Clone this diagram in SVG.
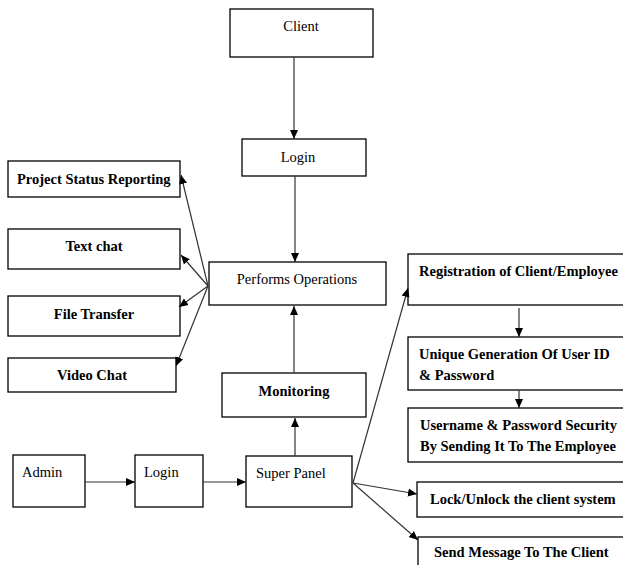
<svg xmlns="http://www.w3.org/2000/svg" width="623" height="565" viewBox="0 0 623 565">
<defs>
<marker id="ah" markerWidth="10" markerHeight="10" refX="9" refY="5" orient="auto" markerUnits="userSpaceOnUse">
<path d="M0,1 L9,5 L0,9 Z" fill="#000"/>
</marker>
<style>
.box{fill:#fff;stroke:#000;stroke-width:1.3}
.t{font-family:"Liberation Serif","Times New Roman",serif;font-size:14.5px;fill:#000}
.b{font-weight:bold}
.c{text-anchor:middle}
.ln{stroke:#333;stroke-width:1.2;fill:none;marker-end:url(#ah)}
</style>
</defs>
<rect width="623" height="565" fill="#fff"/>
<g id="client"><rect class="box" x="230" y="9" width="143" height="48"/><text class="t c" x="301" y="31">Client</text></g>
<g id="login-top"><rect class="box" x="242" y="139" width="124" height="37"/><text class="t c" x="298" y="162">Login</text></g>
<g id="project-status"><rect class="box" x="8" y="161" width="172" height="36"/><text class="t b" x="17" y="184">Project Status Reporting</text></g>
<g id="text-chat"><rect class="box" x="8" y="229" width="172" height="40"/><text class="t b c" x="94" y="251">Text chat</text></g>
<g id="file-transfer"><rect class="box" x="8" y="296" width="172" height="40"/><text class="t b c" x="94" y="319">File Transfer</text></g>
<g id="video-chat"><rect class="box" x="8" y="358" width="168" height="34"/><text class="t b c" x="92" y="380">Video Chat</text></g>
<g id="performs"><rect class="box" x="209" y="262" width="177" height="43"/><text class="t c" x="297" y="284">Performs Operations</text></g>
<g id="monitoring"><rect class="box" x="222" y="373" width="144" height="44"/><text class="t b c" x="294" y="396">Monitoring</text></g>
<g id="admin"><rect class="box" x="13" y="455" width="72" height="52"/><text class="t" x="22" y="477">Admin</text></g>
<g id="login-bottom"><rect class="box" x="135" y="455" width="68" height="52"/><text class="t" x="144" y="477">Login</text></g>
<g id="super-panel"><rect class="box" x="246" y="456" width="106" height="51"/><text class="t" x="256" y="478">Super Panel</text></g>
<g id="registration"><rect class="box" x="408" y="254" width="225" height="51"/><text class="t b" x="419" y="276">Registration of Client/Employee</text></g>
<g id="unique"><rect class="box" x="408" y="337" width="225" height="53"/><text class="t b" x="419" y="359">Unique Generation Of User ID</text><text class="t b" x="419" y="380">&amp; Password</text></g>
<g id="username"><rect class="box" x="408" y="408" width="225" height="54"/><text class="t b" x="420" y="430">Username &amp; Password Security</text><text class="t b" x="420" y="451">By Sending It To The Employee</text></g>
<g id="lock"><rect class="box" x="417" y="482" width="216" height="35"/><text class="t b" x="430" y="504">Lock/Unlock the client system</text></g>
<g id="send-message"><rect class="box" x="418" y="537" width="215" height="40"/><text class="t b" x="434" y="557">Send Message To The Client</text></g>
<g id="connectors">
<line class="ln" x1="294" y1="57" x2="294" y2="139"/>
<line class="ln" x1="295" y1="176" x2="295" y2="262"/>
<line class="ln" x1="208" y1="286" x2="181" y2="175"/>
<line class="ln" x1="208" y1="286" x2="181" y2="255"/>
<line class="ln" x1="208" y1="286" x2="179" y2="307"/>
<line class="ln" x1="208" y1="286" x2="176" y2="366"/>
<line class="ln" x1="294" y1="373" x2="294" y2="306"/>
<line class="ln" x1="85" y1="482" x2="135" y2="482"/>
<line class="ln" x1="203" y1="482" x2="246" y2="482"/>
<line class="ln" x1="295" y1="456" x2="295" y2="418"/>
<line class="ln" x1="353" y1="483" x2="408" y2="288"/>
<line class="ln" x1="353" y1="483" x2="417" y2="494"/>
<line class="ln" x1="353" y1="483" x2="418" y2="540"/>
<line class="ln" x1="519" y1="308" x2="519" y2="337"/>
<line class="ln" x1="519" y1="390" x2="519" y2="408"/>
</g>
</svg>
